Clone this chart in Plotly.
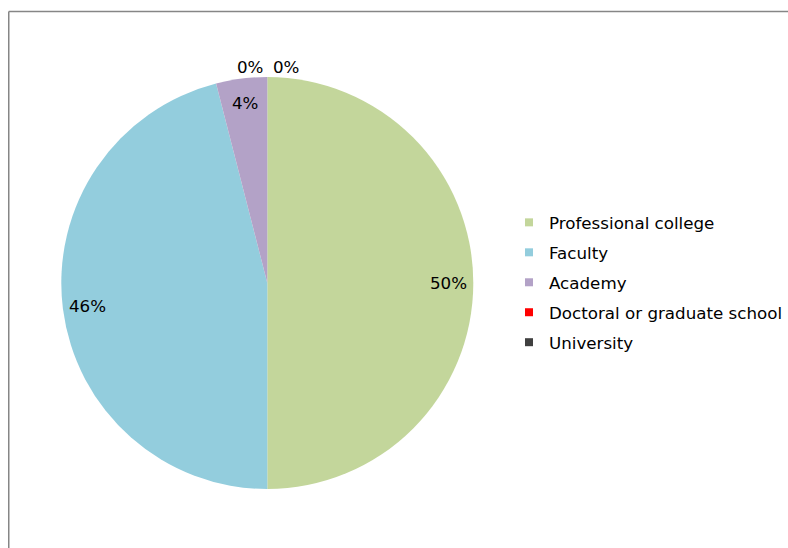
import math
import plotly.graph_objects as go

categories = ["Professional college", "Faculty", "Academy", "Doctoral or graduate school", "University"]
values = [50, 46, 4, 0, 0]
colors = ["#C3D69B", "#93CDDD", "#B3A2C7", "#FF0000", "#404040"]

W, H = 788, 548
FONT = "DejaVu Sans, Verdana, sans-serif"
FS = 16.7


def px_x(X):
    return X / W


def px_y(Y):
    return 1 - Y / H


dom_x = [px_x(61.3), px_x(473.3)]
dom_y = [px_y(489), px_y(77)]

fig = go.Figure()
fig.add_trace(go.Pie(
    labels=categories, values=values, sort=False, direction="clockwise",
    rotation=0, marker=dict(colors=colors, line=dict(width=0)),
    textinfo="none", hoverinfo="label+percent", showlegend=False,
    domain=dict(x=dom_x, y=dom_y),
))

for i, (c, col) in enumerate(zip(categories, colors)):
    fig.add_trace(go.Scatter(
        x=[None], y=[None], mode="markers", name=c,
        marker=dict(symbol="square", size=8, color=col),
        legendgroup=f"g{i}", showlegend=True,
    ))

# data labels placed from the pie's own geometry
cx_px = (dom_x[0] + dom_x[1]) / 2 * W
cy_px = (1 - (dom_y[0] + dom_y[1]) / 2) * H
R = min((dom_x[1] - dom_x[0]) * W, (dom_y[1] - dom_y[0]) * H) / 2
total = sum(values)
cum = 0
annotations = []
zero_idx = 0
for v in values:
    frac = v / total
    mid = (cum + frac / 2) * 2 * math.pi
    cum += frac
    if v > 0:
        rr = 0.88 * R
        xshift = 0
    else:
        rr = 1.05 * R
        xshift = -17 if zero_idx == 0 else 19
        zero_idx += 1
    px = cx_px + rr * math.sin(mid)
    py = cy_px - rr * math.cos(mid)
    annotations.append(dict(
        x=px / W, y=1 - py / H, xref="paper", yref="paper",
        text=f"{round(frac * 100)}%", showarrow=False, xshift=xshift,
        font=dict(family=FONT, size=FS, color="#000000"),
        xanchor="center", yanchor="middle",
    ))

fig.update_layout(
    width=W, height=H,
    margin=dict(l=0, r=0, t=0, b=0),
    paper_bgcolor="white", plot_bgcolor="white",
    xaxis=dict(visible=False), yaxis=dict(visible=False),
    font=dict(family=FONT, size=FS, color="#000000"),
    legend=dict(
        x=px_x(509), y=px_y(205), xanchor="left", yanchor="top",
        traceorder="grouped", tracegroupgap=5.25,
        font=dict(family=FONT, size=FS, color="#000000"),
        bgcolor="rgba(0,0,0,0)", itemclick=False, itemdoubleclick=False,
    ),
    annotations=annotations,
    shapes=[
        dict(type="line", xref="paper", yref="paper", x0=px_x(8.75), x1=1.0,
             y0=px_y(11.5), y1=px_y(11.5), line=dict(color="#868686", width=1.5)),
        dict(type="line", xref="paper", yref="paper", x0=px_x(8.75), x1=px_x(8.75),
             y0=0, y1=px_y(11.5), line=dict(color="#868686", width=1.5)),
    ],
)

fig.write_html("out.html", config={"displayModeBar": False},
               post_script="document.body.style.margin='0';")
